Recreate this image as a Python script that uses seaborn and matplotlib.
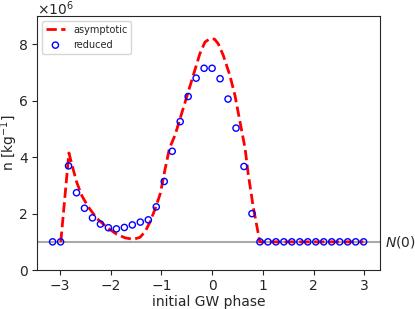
import numpy as np
import seaborn as sns
import matplotlib
matplotlib.use("Agg")
import matplotlib.pyplot as plt

# reduced model: 40 phases, -pi .. pi - pi/20
phase_red = -np.pi + np.arange(40) * np.pi / 20
n_red = [1.0, 1.0, 3.69, 2.74, 2.19, 1.85, 1.63, 1.50, 1.46, 1.51,
         1.60, 1.70, 1.78, 2.24, 3.14, 4.21, 5.26, 6.15, 6.80, 7.15,
         7.15, 6.78, 6.06, 5.03, 3.67, 2.00, 1.0, 1.0, 1.0, 1.0,
         1.0, 1.0, 1.0, 1.0, 1.0, 1.0, 1.0, 1.0, 1.0, 1.0]

# asymptotic curve
phase_asy = [-2.98, -2.82, -2.75, -2.67, -2.57, -2.44, -2.27, -2.07, -1.88, -1.71,
             -1.55, -1.42, -1.32, -1.22, -1.12, -1.02, -0.93, -0.84, -0.73, -0.63,
             -0.53, -0.43, -0.33, -0.24, -0.14, -0.04, 0.05, 0.12, 0.22, 0.35,
             0.45, 0.55, 0.65, 0.71, 0.81, 0.94, 1.5, 2.0, 2.5, 2.98]
n_asy = [1.0, 4.15, 3.66, 3.13, 2.65, 2.24, 1.83, 1.51, 1.27, 1.14,
         1.09, 1.16, 1.36, 1.71, 2.18, 2.71, 3.54, 4.31, 4.78, 5.37,
         5.96, 6.55, 7.14, 7.67, 8.08, 8.20, 8.18, 8.02, 7.61, 6.90,
         6.19, 5.25, 4.31, 3.42, 2.24, 1.0, 1.0, 1.0, 1.0, 1.0]

N0 = 1.0

scale = 1e6
sns.set_style("ticks")
plt.rcParams['font.family'] = ['DejaVu Sans']
plt.rcParams['font.size'] = 10
plt.rcParams['mathtext.fontset'] = 'dejavusans'

fig, ax = plt.subplots(figsize=(4.15, 3.09), dpi=100)
fig.subplots_adjust(left=0.089, right=0.916, top=0.948, bottom=0.126)

ax.axhline(N0 * scale, color='darkgray', lw=1.5, zorder=1)
sns.lineplot(x=phase_asy, y=np.array(n_asy) * scale, ax=ax, color='red',
             linestyle='--', lw=2, label='asymptotic', zorder=2)
sns.scatterplot(x=phase_red, y=np.array(n_red) * scale, ax=ax, marker='o', s=20,
                facecolors='none', edgecolors='blue', linewidth=1,
                label='reduced', zorder=3)

ax.text(3.41, N0 * scale, r'$N(0)$', va='center', ha='left', fontsize=10, clip_on=False)

ax.set_xlim(-3.45, 3.31)
ax.set_ylim(0, 9e6)
ax.set_xticks([-3, -2, -1, 0, 1, 2, 3])
ax.set_yticks([0, 2e6, 4e6, 6e6, 8e6])
ax.set_yticklabels(['0', '2', '4', '6', '8'])
# multiplier drawn by hand so it sits inside the figure
ax.text(0.0, 1.006, r'$\times10^{6}$', transform=ax.transAxes, ha='left', va='baseline', fontsize=10)
ax.tick_params(labelsize=10, length=3.5, pad=3)
ax.set_xlabel('initial GW phase', fontsize=10, labelpad=1.5)
ax.set_ylabel(r'n [kg$^{-1}$]', fontsize=10, labelpad=-0.7)
ax.legend(loc='upper left', fontsize=7, frameon=True)

fig.savefig('out.png', dpi=100)
